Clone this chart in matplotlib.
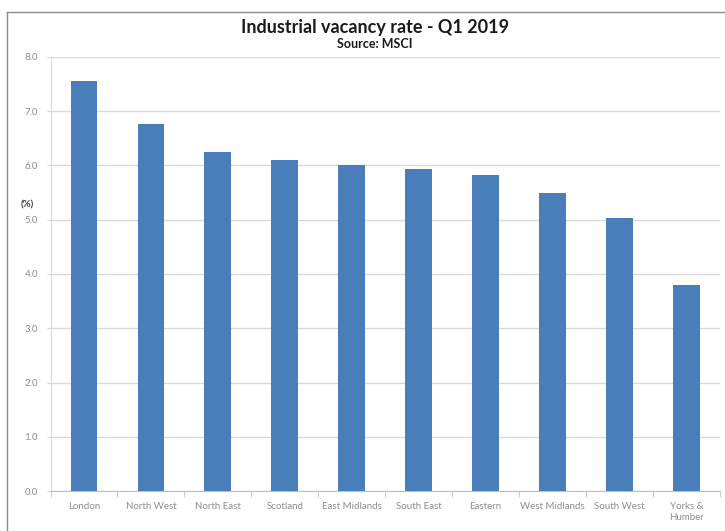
import matplotlib.pyplot as plt
import numpy as np
from matplotlib.lines import Line2D

regions = ['London', 'North West', 'North East', 'Scotland', 'East Midlands',
           'South East', 'Eastern', 'West Midlands', 'South West', 'Yorks &\nHumber']
vacancy = [7.55, 6.77, 6.24, 6.10, 6.01, 5.93, 5.83, 5.49, 5.03, 3.79]
yticks = [0.0, 1.0, 2.0, 3.0, 4.0, 5.0, 6.0, 7.0, 8.0]

plt.rcParams['font.family'] = ['Lato', 'DejaVu Sans']

fig = plt.figure(figsize=(7.25, 5.31), dpi=100)
ax = fig.add_axes([0.0697, 0.0753, 0.9233, 0.8174])

x = np.arange(len(regions))
ax.bar(x, vacancy, width=0.4, color='#4a7ebb', zorder=3)

ax.set_xlim(-0.5, len(regions) - 0.5)
ax.set_ylim(0, 8)
ax.set_yticks(yticks)
ax.set_yticklabels(['%.1f' % t for t in yticks])
ax.set_xticks(x)
ax.set_xticklabels(regions)
ax.set_xticks(np.arange(len(regions) + 1) - 0.5, minor=True)

ax.grid(axis='y', color='#d9d9d9', linewidth=1, zorder=0)
for s in ['top', 'right']:
    ax.spines[s].set_visible(False)
ax.spines['left'].set_color('#d9d9d9')
ax.spines['bottom'].set_color('#bfbfbf')

ax.tick_params(axis='y', length=3, color='#d9d9d9', labelsize=7, labelcolor='#8c8c8c', pad=6)
ax.tick_params(axis='x', which='major', length=0, labelsize=7, labelcolor='#8c8c8c', pad=8)
ax.tick_params(axis='x', which='minor', length=4, color='#bfbfbf')

ax.text(-0.025, 0.66, '(%)', transform=ax.transAxes, ha='right', va='center',
        fontsize=7, fontweight='bold', color='#404040')

fig.text(0.517, 0.948, 'Industrial vacancy rate - Q1 2019', ha='center', va='center',
         fontsize=13, fontweight='bold', color='#1a1a1a')
fig.text(0.517, 0.918, 'Source: MSCI', ha='center', va='center',
         fontsize=9, fontweight='bold', color='#1a1a1a')

# outer chart frame (cropped at right and bottom)
fig.add_artist(Line2D([7 / 725, 7 / 725], [0, 1 - 12 / 531], transform=fig.transFigure,
                      color='#8c8c8c', linewidth=1))
fig.add_artist(Line2D([7 / 725, 1], [1 - 12 / 531, 1 - 12 / 531], transform=fig.transFigure,
                      color='#8c8c8c', linewidth=1))

fig.savefig('out.png', dpi=100)
